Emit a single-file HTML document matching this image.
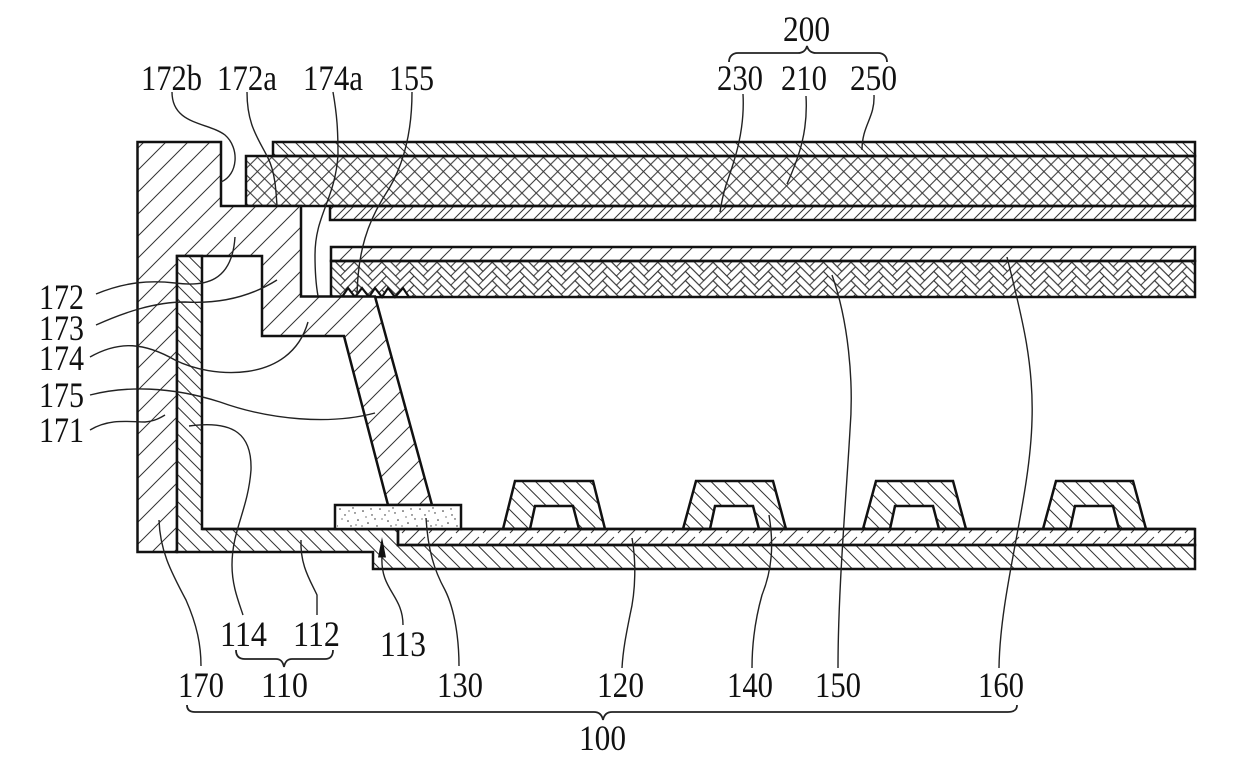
<!DOCTYPE html>
<html><head><meta charset="utf-8"><style>
html,body{margin:0;padding:0;background:#fff}
svg{display:block}
text{font-family:"Liberation Serif",serif;font-size:36px;fill:#111}
.l{fill:none;stroke:#222;stroke-width:1.4}
.o{stroke:#111;stroke-width:2.5}
.t{fill:none;stroke:#111;stroke-width:2.5}
</style></head><body>
<svg width="1240" height="769" viewBox="0 0 1240 769" xmlns="http://www.w3.org/2000/svg">
<defs>
<pattern id="up" width="22" height="22" patternUnits="userSpaceOnUse"><path d="M-2 24L24 -2M-13 13L13 -13M9 35L35 9" stroke="#333" stroke-width="1" fill="none"/></pattern>
<pattern id="up2" width="20" height="20" patternUnits="userSpaceOnUse"><path d="M-2 22L22 -2M-12 12L12 -12M8 32L32 8" stroke="#333" stroke-width="1" fill="none"/></pattern>
<pattern id="upp" width="20" height="20" patternUnits="userSpaceOnUse"><path d="M-2 22L22 -2M-12 12L12 -12M8 32L32 8M-2 15L15 -2M5 28L28 5" stroke="#333" stroke-width="1" fill="none"/></pattern>
<pattern id="dn" width="13.500" height="13.500" patternUnits="userSpaceOnUse"><path d="M0 0L13.500 13.500M-3 10.500L3 16.500M10.500 -3L16.500 3" stroke="#333" stroke-width="1" fill="none"/></pattern>
<pattern id="dnp" width="20" height="20" patternUnits="userSpaceOnUse"><path d="M-2 -2L22 22M-12 8L12 32M8 -12L32 12M-2 5L22 29M11 -2L33 20" stroke="#333" stroke-width="1" fill="none"/></pattern>
<pattern id="x" width="14.300" height="14.300" patternUnits="userSpaceOnUse"><path d="M0 0L14.300 14.300M0 14.300L14.300 0" stroke="#333" stroke-width="1" fill="none"/></pattern>
<pattern id="dash" width="27" height="16" patternUnits="userSpaceOnUse"><path d="M-2 18L16 0M11 18L20 9M24 5L29 0" stroke="#333" stroke-width="1" fill="none"/></pattern>
<path id="hbp" d="M0 0L13.800 13.800L9.200 18.400L-4.600 4.600ZM23 4.600L27.600 9.200L13.800 23L9.200 18.400Z" stroke="#333" stroke-width="1" fill="none"/>
<pattern id="hb" width="27.600" height="9.200" patternUnits="userSpaceOnUse">
<use href="#hbp"/><use href="#hbp" y="-9.200"/><use href="#hbp" y="-18.400"/>
<use href="#hbp" x="27.600"/><use href="#hbp" x="27.600" y="-9.200"/><use href="#hbp" x="27.600" y="-18.400"/>
</pattern>
<pattern id="dots" width="40" height="22" patternUnits="userSpaceOnUse"><g fill="#222"><circle cx="3" cy="5" r=".8"/><circle cx="12" cy="9" r=".7"/><circle cx="20" cy="3" r=".8"/><circle cx="28" cy="15" r=".8"/><circle cx="35" cy="7" r=".7"/><circle cx="8" cy="17" r=".8"/><circle cx="17" cy="20" r=".7"/><circle cx="25" cy="9" r=".7"/><circle cx="38" cy="14" r=".8"/><circle cx="33" cy="2" r=".7"/><circle cx="15" cy="13" r=".7"/><circle cx="22" cy="13" r=".6"/><circle cx="6" cy="11" r=".6"/><circle cx="29" cy="5" r=".6"/><circle cx="31" cy="20" r=".7"/><circle cx="11" cy="3" r=".7"/><circle cx="36" cy="19" r=".6"/><circle cx="2" cy="20" r=".6"/></g></pattern>
</defs>
<rect width="1240" height="769" fill="#fff"/>

<!-- upper substrate -->
<rect x="273" y="142" width="922" height="14" fill="url(#dnp)" class="o"/>
<rect x="246" y="156" width="949" height="50" fill="url(#x)" class="o"/>
<rect x="330" y="206" width="865" height="14" fill="url(#upp)" class="o"/>
<rect x="331" y="247" width="864" height="14" fill="url(#up2)" class="o"/>
<rect x="331" y="261" width="864" height="36" fill="url(#hb)" class="o"/>

<!-- bumps -->
<path d="M342 297L348 288L355 297L362 288L369 297L375 288L382 297L388 288L395 297L403 288L409 297Z" fill="#fff" stroke="#111" stroke-width="2.200"/>

<!-- frame 170 -->
<path d="M137.500 142H221V206H301V296.500H375L432 505H388L344 336H262V256H177V552H137.500Z" fill="#fff"/>
<path d="M137.500 142H221V206H301V296.500H375L432 505H388L344 336H262V256H177V552H137.500Z" fill="url(#up)" class="o"/>

<!-- base 112/114 -->
<path d="M177 256H202V529H398V545H1195V569H373V552H177Z" fill="#fff"/>
<path d="M177 256H202V529H398V545H1195V569H373V552H177Z" fill="url(#dn)" class="o"/>

<!-- layer 120 -->
<rect x="398" y="529" width="797" height="16" fill="url(#dash)" class="o"/>
<path d="M202 529H1195" class="t"/>

<!-- 130 -->
<rect x="335" y="505" width="126" height="24" fill="#fff" class="o"/>
<rect x="337" y="507" width="122" height="20" fill="url(#dots)"/>

<!-- banks -->
<g>
<path d="M503 529L515 481H593L605 529H579L573 506H535L530 529Z" fill="url(#dn)" class="o"/>
<path d="M683 529L696 481H773L786 529H759L753 506H715L710 529Z" fill="url(#dn)" class="o"/>
<path d="M863 529L876 481H953L966 529H939L933 506H895L890 529Z" fill="url(#dn)" class="o"/>
<path d="M1043 529L1056 481H1133L1146 529H1119L1113 506H1075L1070 529Z" fill="url(#dn)" class="o"/>
</g>

<!-- leaders -->
<path class="l" d="M172 92C172 125 208 122 225 135C240 148 238 175 221 182"/>
<path class="l" d="M247 92C247 125 258 138 268 158C275 172 276 190 277 206"/>
<path class="l" d="M333 92C337 115 338 130 338 155C335 200 315 215 315 255C315 275 316 285 318 296"/>
<path class="l" d="M412 92C412 130 405 165 385 195C368 222 358 250 357 295"/>
<path class="l" d="M743 94C745 130 735 160 726 185C723 195 721 205 720 212"/>
<path class="l" d="M806 96C808 130 800 155 787 184"/>
<path class="l" d="M874 95C875 118 862 125 862 150"/>
<path class="l" d="M96 294C125 282 150 280 175 283C205 287 232 282 235 237"/>
<path class="l" d="M96 325C125 312 155 302 185 302C220 304 250 297 277 280"/>
<path class="l" d="M90 357C120 340 145 343 175 360C210 378 290 385 308 322"/>
<path class="l" d="M90 395C125 386 170 386 220 402C270 420 330 425 375 413"/>
<path class="l" d="M90 430C110 418 130 422 145 422C155 421 160 418 165 415"/>
<path class="l" d="M189 426C235 420 252 435 251 470C248 510 232 530 232 565C232 585 238 600 243 615"/>
<path class="l" d="M159 520C160 550 170 570 186 600C197 625 201 645 201 666"/>
<path class="l" d="M301 540C300 565 310 580 317 595V615"/>
<path class="l" d="M382 556C380 590 403 595 403 625"/>
<path fill="#111" d="M382 537L386 557.500H378Z"/>
<path class="l" d="M426 518C428 550 434 570 445 590C455 610 459 640 459 666"/>
<path class="l" d="M632 538C636 560 636 590 630 615C626 635 623 650 622 668"/>
<path class="l" d="M769 515C774 545 772 570 762 595C755 620 752 645 752 668"/>
<path class="l" d="M832 275C848 320 854 380 850 430C846 500 838 590 838 668"/>
<path class="l" d="M1007 257C1020 310 1034 360 1032 420C1030 500 1000 590 999 668"/>

<!-- braces -->
<g class="l" style="stroke-width:1.800">
<path d="M729 62C729 57 732 53 738 53H798C803 53 806 50 807 46C808 50 811 53 816 53H878C884 53 887 57 887 62"/>
<path d="M236 650C236 656 239 659 245 659H276C281 659 283 662 284 667C285 662 287 659 292 659H325C330 659 333 656 333 650"/>
<path d="M187 705C187 710 190 712 195 712H594C599 712 602 715 603 720C604 715 607 712 612 712H1008C1014 712 1017 710 1017 705"/>
</g>

<!-- labels -->
<g>
<text x="783" y="41" textLength="47" lengthAdjust="spacingAndGlyphs">200</text>
<text x="141" y="90" textLength="61" lengthAdjust="spacingAndGlyphs">172b</text>
<text x="217" y="90" textLength="60" lengthAdjust="spacingAndGlyphs">172a</text>
<text x="303" y="90" textLength="60" lengthAdjust="spacingAndGlyphs">174a</text>
<text x="389" y="90" textLength="45" lengthAdjust="spacingAndGlyphs">155</text>
<text x="717" y="90" textLength="46" lengthAdjust="spacingAndGlyphs">230</text>
<text x="781" y="90" textLength="46" lengthAdjust="spacingAndGlyphs">210</text>
<text x="850" y="90" textLength="47" lengthAdjust="spacingAndGlyphs">250</text>
<text x="39" y="309" textLength="45" lengthAdjust="spacingAndGlyphs">172</text>
<text x="39" y="340" textLength="45" lengthAdjust="spacingAndGlyphs">173</text>
<text x="39" y="370" textLength="45" lengthAdjust="spacingAndGlyphs">174</text>
<text x="39" y="407" textLength="45" lengthAdjust="spacingAndGlyphs">175</text>
<text x="39" y="442" textLength="45" lengthAdjust="spacingAndGlyphs">171</text>
<text x="220" y="646" textLength="47" lengthAdjust="spacingAndGlyphs">114</text>
<text x="293" y="646" textLength="47" lengthAdjust="spacingAndGlyphs">112</text>
<text x="380" y="656" textLength="46" lengthAdjust="spacingAndGlyphs">113</text>
<text x="178" y="697" textLength="46" lengthAdjust="spacingAndGlyphs">170</text>
<text x="261" y="697" textLength="47" lengthAdjust="spacingAndGlyphs">110</text>
<text x="437" y="697" textLength="46" lengthAdjust="spacingAndGlyphs">130</text>
<text x="597" y="697" textLength="47" lengthAdjust="spacingAndGlyphs">120</text>
<text x="727" y="697" textLength="46" lengthAdjust="spacingAndGlyphs">140</text>
<text x="815" y="697" textLength="46" lengthAdjust="spacingAndGlyphs">150</text>
<text x="978" y="697" textLength="46" lengthAdjust="spacingAndGlyphs">160</text>
<text x="579" y="750" textLength="47" lengthAdjust="spacingAndGlyphs">100</text>
</g>
</svg>
</body></html>
